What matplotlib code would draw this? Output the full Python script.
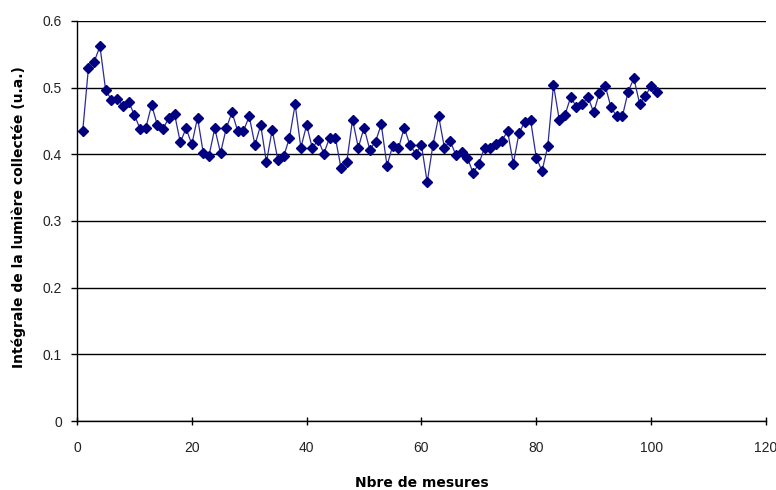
import numpy as np
import matplotlib.pyplot as plt

mesures = np.arange(1, 102)
integrale = [
    0.435, 0.530, 0.539, 0.562, 0.496, 0.482, 0.483, 0.473, 0.479, 0.459,
    0.438, 0.440, 0.474, 0.444, 0.438, 0.455, 0.460, 0.418, 0.439, 0.415,
    0.455, 0.402, 0.398, 0.439, 0.402, 0.439, 0.463, 0.435, 0.435, 0.457,
    0.414, 0.444, 0.388, 0.437, 0.391, 0.397, 0.424, 0.475, 0.410, 0.444,
    0.409, 0.422, 0.401, 0.425, 0.425, 0.379, 0.389, 0.452, 0.410, 0.440,
    0.407, 0.419, 0.445, 0.383, 0.413, 0.409, 0.440, 0.414, 0.401, 0.414,
    0.358, 0.414, 0.457, 0.410, 0.420, 0.399, 0.404, 0.395, 0.372, 0.386,
    0.410, 0.409, 0.416, 0.420, 0.435, 0.386, 0.432, 0.449, 0.452, 0.395,
    0.375, 0.412, 0.504, 0.452, 0.459, 0.486, 0.471, 0.475, 0.486, 0.463,
    0.492, 0.503, 0.471, 0.457, 0.457, 0.494, 0.514, 0.476, 0.487, 0.503,
    0.494,
]
x_ticks = [0, 20, 40, 60, 80, 100, 120]
y_ticks = [0, 0.1, 0.2, 0.3, 0.4, 0.5, 0.6]

plt.rcParams['font.family'] = ['Liberation Sans', 'DejaVu Sans']

fig = plt.figure(figsize=(7.76, 4.9), dpi=100)
ax = fig.add_axes([0.0992, 0.1408, 0.8878, 0.8164])

ax.plot(mesures, integrale, color='#2a2a9a', linewidth=0.9,
        marker='D', markersize=4.6, markerfacecolor='#000080',
        markeredgecolor='#000080')

ax.set_xlim(0, 120)
ax.set_ylim(0, 0.6)
ax.set_xticks(x_ticks)
ax.set_yticks(y_ticks)
ax.set_yticklabels([f'{v:g}' for v in y_ticks])

# Quadrillage horizontal comme dans Excel
ax.yaxis.grid(True, color='black', linewidth=1.0)
ax.set_axisbelow(True)

for side in ['top', 'right']:
    ax.spines[side].set_visible(False)
ax.spines['left'].set_linewidth(1.0)
ax.spines['bottom'].set_linewidth(1.0)

ax.tick_params(axis='both', width=1, labelsize=10, colors='black',
               labelcolor='#222222')
ax.tick_params(axis='x', direction='inout', length=5.8, pad=11.5)
ax.tick_params(axis='y', direction='out', length=4.3, pad=6.5)

police_titre = ['DejaVu Sans']
ax.set_xlabel('Nbre de mesures', fontsize=10, fontweight='bold',
              family=police_titre)
ax.set_ylabel('Intégrale de la lumière collectée (u.a.)', fontsize=10,
              fontweight='bold', family=police_titre)
ax.xaxis.set_label_coords(0.5, -0.137)
ax.yaxis.set_label_coords(-0.074, 0.51)

fig.savefig('out.png', dpi=100)
